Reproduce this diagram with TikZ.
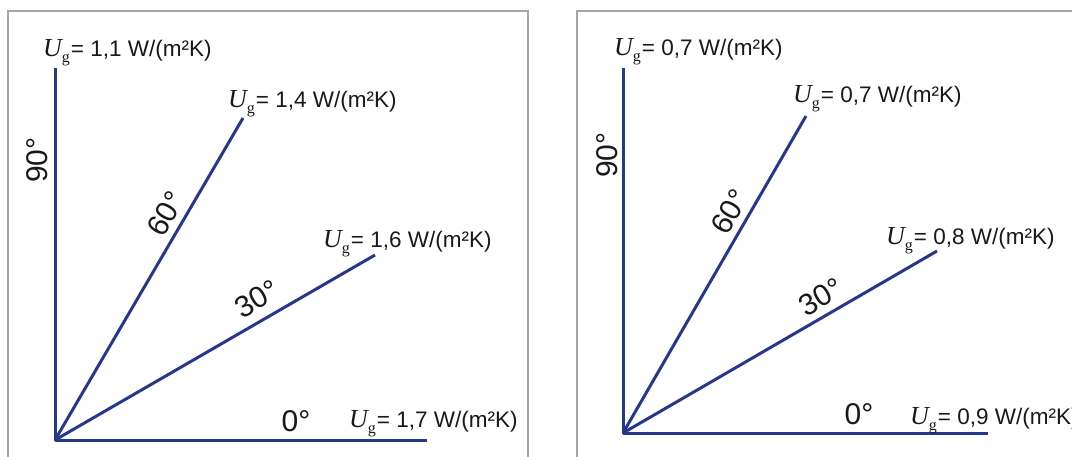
\documentclass[tikz,border=0pt]{standalone}
\usepackage{fontspec}
\setmainfont{Liberation Sans}
\newfontfamily\serifU{Liberation Serif}
\definecolor{lineblue}{RGB}{38,56,140}
\definecolor{framegray}{RGB}{165,165,165}
\definecolor{txt}{RGB}{25,25,25}
\newcommand\UgSym{{\serifU\fontsize{26}{26}\selectfont\itshape U}\raisebox{-6pt}{\serifU\fontsize{16}{16}\selectfont g}\hspace{1pt}}
\tikzset{
  ray/.style={draw=lineblue, line width=3pt},
  frameline/.style={draw=framegray, line width=1.3pt},
  uglabel/.style={anchor=base west, inner sep=0pt, text=txt, font=\fontsize{22.5}{26}\selectfont},
  anglabel/.style={inner sep=0pt, text=txt, font=\fontsize{30}{32}\selectfont},
}
\begin{document}
\begin{tikzpicture}[x=1pt,y=-1pt]
\useasboundingbox[fill=white] (0,0) rectangle (1072,456);
% frames
\coordinate (f1a) at (8,460); \coordinate (f1b) at (8,11);
\coordinate (f1c) at (528,11); \coordinate (f1d) at (528,460);
\draw[frameline] (f1a) -- (f1b) -- (f1c) -- (f1d);
\coordinate (f2a) at (577,460); \coordinate (f2b) at (577,11);
\coordinate (f2c) at (1076,11);
\draw[frameline] (f2a) -- (f2b) -- (f2c);
% left panel
\coordinate (O1) at (55,440);
\coordinate (A1) at (55,68);
\coordinate (B1) at (243,118);
\coordinate (C1) at (375,255);
\coordinate (D1) at (427,440);
\draw[ray, line join=round] (A1) -- (O1) -- (D1);
\draw[ray] (O1) -- (B1);
\draw[ray] (O1) -- (C1);
\node[uglabel] (u190) at (43,56) {\UgSym= 1,1 W/(m²K)};
\node[uglabel] (u160) at (228,107) {\UgSym= 1,4 W/(m²K)};
\node[uglabel] (u130) at (323,247) {\UgSym= 1,6 W/(m²K)};
\node[uglabel] (u100) at (349,427) {\UgSym= 1,7 W/(m²K)};
\node[anglabel, rotate=90] (a190) at (37,160) {90°};
\node[anglabel, rotate=60] (a160) at (166,214) {60°};
\node[anglabel, rotate=30] (a130) at (257,299) {30°};
\node[anglabel] (a100) at (296,421) {0°};
% right panel
\coordinate (O2) at (623,433);
\coordinate (A2) at (623,68);
\coordinate (B2) at (806,116);
\coordinate (C2) at (937,251);
\coordinate (D2) at (988,433);
\draw[ray, line join=round] (A2) -- (O2) -- (D2);
\draw[ray] (O2) -- (B2);
\draw[ray] (O2) -- (C2);
\node[uglabel] (u290) at (614,55) {\UgSym= 0,7 W/(m²K)};
\node[uglabel] (u260) at (793,102) {\UgSym= 0,7 W/(m²K)};
\node[uglabel] (u230) at (886,244) {\UgSym= 0,8 W/(m²K)};
\node[uglabel] (u200) at (910,424) {\UgSym= 0,9 W/(m²K)};
\node[anglabel, rotate=90] (a290) at (607,155) {90°};
\node[anglabel, rotate=60] (a260) at (730,212) {60°};
\node[anglabel, rotate=30] (a230) at (821,297) {30°};
\node[anglabel] (a200) at (859,414) {0°};
\end{tikzpicture}
\end{document}
